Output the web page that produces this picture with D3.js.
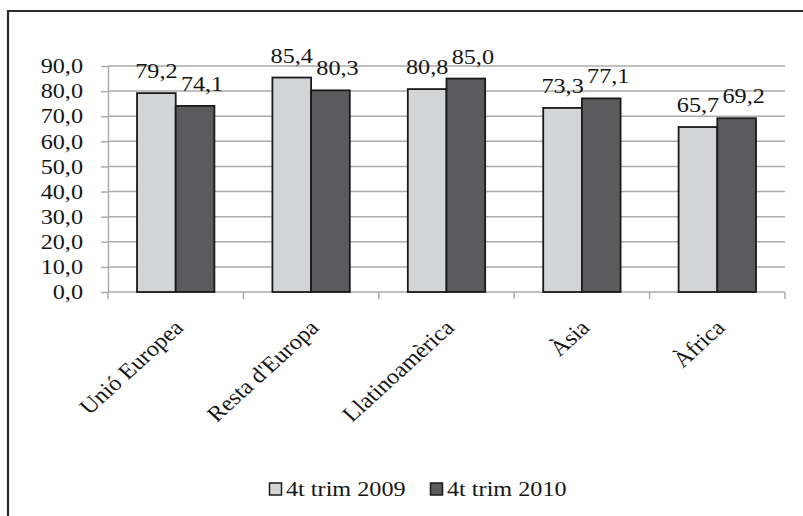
<!DOCTYPE html>
<html>
<head>
<meta charset="utf-8">
<script src="https://cdn.jsdelivr.net/npm/d3@7"></script>
<style>
  body { margin: 0; background: #fff; }
  text { font-family: "Liberation Serif", "Times New Roman", serif; fill: #151515; }
</style>
</head>
<body>
<div id="chart"></div>
<script>
var categories = ['Unió Europea', "Resta d'Europa", 'Llatinoamèrica', 'Àsia', 'Àfrica'];
var seriesNames = ['4t trim 2009', '4t trim 2010'];
var values2009 = [79.2, 85.4, 80.8, 73.3, 65.7];
var values2010 = [74.1, 80.3, 85.0, 77.1, 69.2];
var yTicks = [0, 10, 20, 30, 40, 50, 60, 70, 80, 90];

var colors = ['#d4d5d6', '#5b5b5d'];
var fontSize = 22;
var stretch = 1.1;

var width = 803;
var height = 516;
var plot = { left: 108, right: 785, top: 66, bottom: 292 };

var svg = d3.select('#chart')
  .append('svg')
  .attr('width', width)
  .attr('height', height);

// frame (right and bottom edges fall outside the picture)
svg.append('path')
  .attr('d', 'M8,' + height + 'V11H' + width)
  .attr('fill', 'none')
  .attr('stroke', '#2b2b2b')
  .attr('stroke-width', 2.2);

var x = d3.scaleBand()
  .domain(categories)
  .range([plot.left, plot.right]);

var x1 = d3.scaleBand()
  .domain(seriesNames)
  .range([0, x.bandwidth()])
  .paddingOuter(0.75);

var y = d3.scaleLinear()
  .domain([0, 90])
  .range([plot.bottom, plot.top]);

var fmt = function(v) { return d3.format('.1f')(v).replace('.', ','); };

// gridlines
svg.append('g')
  .selectAll('line')
  .data(yTicks.filter(function(t) { return t > 0; }))
  .enter()
  .append('line')
  .attr('x1', plot.left)
  .attr('x2', plot.right)
  .attr('y1', function(d) { return y(d); })
  .attr('y2', function(d) { return y(d); })
  .attr('stroke', '#ababab')
  .attr('stroke-width', 1.5);

// y axis
var yAxis = svg.append('g')
  .attr('transform', 'translate(' + plot.left + ',0)')
  .call(d3.axisLeft(y).tickValues(yTicks).tickSize(7).tickSizeOuter(0).tickFormat(''));

yAxis.selectAll('path, line').attr('stroke', '#ababab').attr('stroke-width', 1.5);

svg.append('g')
  .selectAll('text')
  .data(yTicks)
  .enter()
  .append('text')
  .attr('transform', function(d) { return 'translate(83,' + y(d) + ') scale(' + stretch + ',1)'; })
  .attr('dy', '0.33em')
  .attr('text-anchor', 'end')
  .style('font-size', fontSize + 'px')
  .text(fmt);

// x axis
var boundaries = categories.map(function(c) { return x(c); }).concat([plot.right]);

svg.append('line')
  .attr('x1', plot.left)
  .attr('x2', plot.right)
  .attr('y1', plot.bottom)
  .attr('y2', plot.bottom)
  .attr('stroke', '#ababab')
  .attr('stroke-width', 1.5);

svg.append('g')
  .selectAll('line')
  .data(boundaries)
  .enter()
  .append('line')
  .attr('x1', function(d) { return d; })
  .attr('x2', function(d) { return d; })
  .attr('y1', plot.bottom)
  .attr('y2', plot.bottom + 7)
  .attr('stroke', '#ababab')
  .attr('stroke-width', 1.5);

svg.append('g')
  .selectAll('text')
  .data(categories)
  .enter()
  .append('text')
  .attr('transform', function(d) {
    var cx = x(d) + x.bandwidth() / 2 + 9;
    return 'translate(' + cx + ',' + (plot.bottom + 37) + ') scale(' + stretch + ',1) rotate(-45)';
  })
  .attr('text-anchor', 'end')
  .style('font-size', fontSize + 'px')
  .text(function(d) { return d; });

// bars
var rows = categories.map(function(c, i) {
  return { category: c, values: [values2009[i], values2010[i]] };
});

var groups = svg.append('g')
  .selectAll('g')
  .data(rows)
  .enter()
  .append('g')
  .attr('transform', function(d) { return 'translate(' + x(d.category) + ',0)'; });

groups.selectAll('rect')
  .data(function(d) {
    return d.values.map(function(v, i) { return { series: seriesNames[i], value: v, idx: i }; });
  })
  .enter()
  .append('rect')
  .attr('x', function(d) { return x1(d.series); })
  .attr('width', x1.bandwidth())
  .attr('y', function(d) { return y(d.value); })
  .attr('height', function(d) { return plot.bottom - y(d.value); })
  .attr('fill', function(d) { return colors[d.idx]; })
  .attr('stroke', '#1a1a1a')
  .attr('stroke-width', 1.8);

// value labels
groups.selectAll('text')
  .data(function(d) {
    return d.values.map(function(v, i) { return { series: seriesNames[i], value: v, idx: i }; });
  })
  .enter()
  .append('text')
  .attr('transform', function(d) {
    var cx = x1(d.series) + x1.bandwidth() / 2 + (d.idx === 1 ? 7 : 0);
    return 'translate(' + cx + ',' + (y(d.value) - 15) + ') scale(' + stretch + ',1)';
  })
  .attr('text-anchor', 'middle')
  .style('font-size', fontSize + 'px')
  .text(function(d) { return fmt(d.value); });

// legend
var legend = svg.append('g')
  .attr('transform', 'translate(269,489)');

var legendX = [0, 161];

var item = legend.selectAll('g')
  .data(seriesNames)
  .enter()
  .append('g')
  .attr('transform', function(d, i) { return 'translate(' + legendX[i] + ',0)'; });

item.append('rect')
  .attr('x', 0.5)
  .attr('y', -6)
  .attr('width', 12)
  .attr('height', 12)
  .attr('fill', function(d, i) { return colors[i]; })
  .attr('stroke', '#1a1a1a')
  .attr('stroke-width', 1.5);

item.append('text')
  .attr('transform', 'translate(17,0) scale(' + stretch + ',1)')
  .attr('dy', '0.33em')
  .style('font-size', fontSize + 'px')
  .text(function(d) { return d; });
</script>
</body>
</html>
